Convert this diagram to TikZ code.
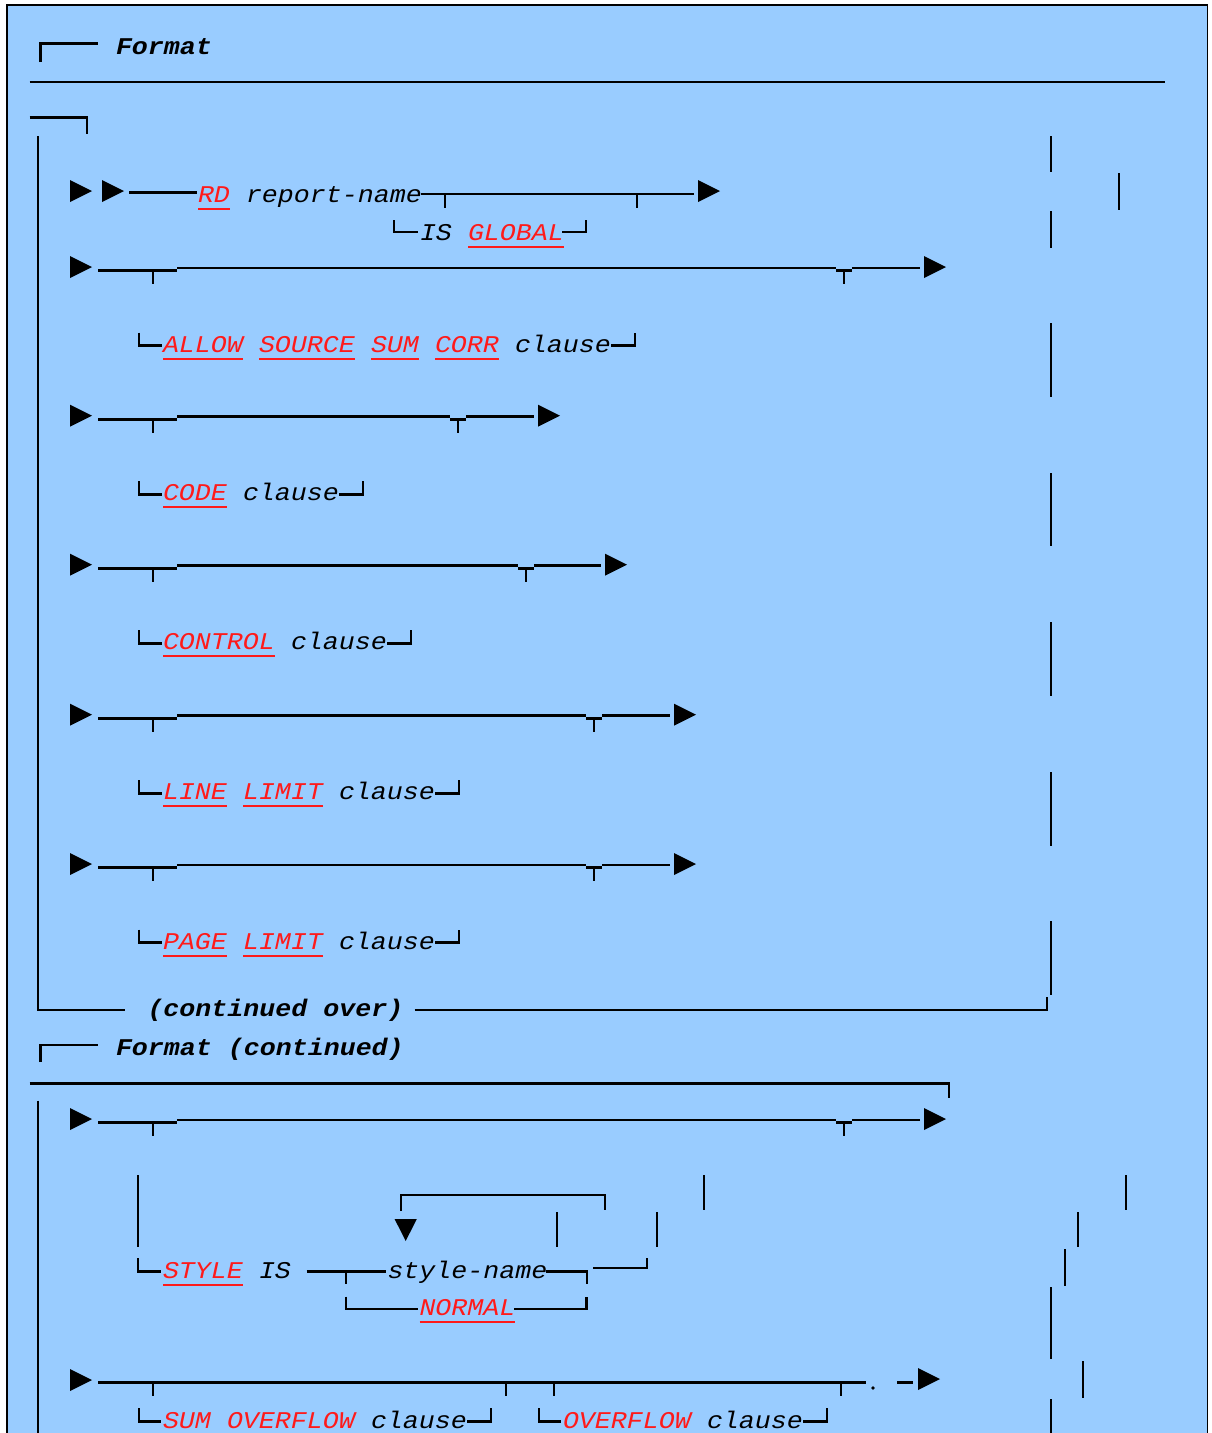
\documentclass[tikz,border=0pt]{standalone}
\usepackage{fontspec}
\newfontfamily\cmono[FakeStretch=1.11]{Liberation Mono}
\definecolor{bgblue}{HTML}{99CCFF}
\definecolor{kwred}{HTML}{FF1A1A}
\tikzset{
  txt/.style={anchor=base west, inner sep=0pt, outer sep=0pt, font=\cmono\itshape\fontsize{24}{28}\selectfont, text=black},
  kwd/.style={txt, text=kwred},
  ttl/.style={anchor=base west, inner sep=0pt, outer sep=0pt, font=\cmono\bfseries\itshape\fontsize{24}{28}\selectfont, text=black},
  ln/.style={line width=2.6pt, line join=miter},
  tk/.style={line width=2pt},
  ul/.style={draw=kwred, line width=2pt},
}
\newcommand\kw[4]{\node[kwd] (#1) at (#2,#3) {#4};\draw[ul] ([yshift=-6.5pt]#1.base west) -- ([yshift=-6.5pt]#1.base east);}
\newcommand\tx[4]{\node[txt] (#1) at (#2,#3) {#4};}
% optional row: #1 main line y, #2 second tee x, #3 arrow x
\newcommand\optrow[3]{%
  \fill (70,#1-12) -- (92,#1-1) -- (70,#1+10) -- cycle;
  \draw[ln] (98,#1+2.7) -- (177,#1+2.7);
  \draw[tk] (153,#1+2.7) -- (153,#1+16);
  \draw[ln] (177,#1) -- (#2-8,#1);
  \draw[ln] (#2-8,#1+2.7) -- (#2+8,#1+2.7);
  \draw[tk] (#2,#1+2.7) -- (#2,#1+16);
  \draw[ln] (#2+8,#1) -- (#3-4,#1);
  \fill (#3,#1-12) -- (#3+22,#1-1) -- (#3,#1+10) -- cycle;
}
% sub-row corners: #1 main y, #2 left corner x, #3 text end x, #4 right corner x
\newcommand\subbox[4]{%
  \draw[ln] (#2,#1+64.5) -- (#2,#1+77.5) -- (#2+23,#1+77.5);
  \draw[ln] (#3,#1+77.5) -- (#4,#1+77.5) -- (#4,#1+64.5);
}
\begin{document}
\begin{tikzpicture}[x=1pt,y=-1pt]
\useasboundingbox (0,0) rectangle (1211,1433);
\fill[white] (0,0) rectangle (1211,1433);
\draw[line width=1.5pt, fill=bgblue] (7,5) rectangle (1207.5,1460);

% ---------- header ----------
\draw[ln] (40.6,62) -- (40.6,43.5) -- (97.7,43.5);
\node[ttl] (fmt) at (116,54) {Format};
\draw[ln] (29.5,82) -- (1165,82);
\draw[ln] (29.5,117.5) -- (87,117.5) -- (87,134);
\draw[ln] (38,136) -- (38,1010) -- (125,1010);
\node[ttl] (cont) at (147.5,1016.7) {(continued over)};
\draw[ln] (414.6,1010) -- (1047,1010) -- (1047,997);

% right-side fragments
\foreach \a/\b in {136/172, 211/248, 323/397, 473/546, 622/696, 772/846, 921/995}
  \draw[ln] (1051,\a) -- (1051,\b);
\draw[ln] (1119,173) -- (1119,210);

% ---------- row 1 ----------
\fill (70,180) -- (92,191) -- (70,202) -- cycle;
\fill (102,180) -- (124,191) -- (102,202) -- cycle;
\draw[ln] (129,192.5) -- (197,192.5);
\kw{rd}{198}{202}{RD}
\tx{rname}{246}{202}{report-name}
\draw[ln] (421,194) -- (694,194);
\draw[tk] (445,194) -- (445,208);
\draw[tk] (637,194) -- (637,208);
\fill (698,180) -- (720,191) -- (698,202) -- cycle;
\draw[ln] (394,220) -- (394,232) -- (418,232);
\tx{is1}{420}{240}{IS}
\kw{glob}{468}{240}{GLOBAL}
\draw[ln] (562,232) -- (586,232) -- (586,220);

% ---------- row 2 ----------
\optrow{268}{844}{924}
\subbox{268}{139}{611}{635}
\kw{allow}{163}{352}{ALLOW}
\kw{source}{259}{352}{SOURCE}
\kw{sum}{371}{352}{SUM}
\kw{corr}{435}{352}{CORR}
\tx{cl2}{515}{352}{clause}

% ---------- row 3 ----------
\optrow{416.7}{458}{538}
\subbox{416.7}{139}{339}{363}
\kw{code}{163}{500.7}{CODE}
\tx{cl3}{243}{500.7}{clause}

% ---------- row 4 ----------
\optrow{565.7}{526}{605}
\subbox{565.7}{139}{387}{411}
\kw{control}{163}{649.7}{CONTROL}
\tx{cl4}{291}{649.7}{clause}

% ---------- row 5 ----------
\optrow{715.7}{594}{674}
\subbox{715.7}{139}{435}{459}
\kw{line}{163}{799.7}{LINE}
\kw{limit5}{243}{799.7}{LIMIT}
\tx{cl5}{339}{799.7}{clause}

% ---------- row 6 ----------
\optrow{865}{594}{674}
\subbox{865}{139}{435}{459}
\kw{page}{163}{949}{PAGE}
\kw{limit6}{243}{949}{LIMIT}
\tx{cl6}{339}{949}{clause}

% ---------- continued header ----------
\draw[ln] (40.6,1062) -- (40.6,1045) -- (97.7,1045);
\node[ttl] (fmtc) at (116,1055) {Format (continued)};
\draw[ln] (29.5,1083.3) -- (949,1083.3) -- (949,1098);
\draw[ln] (38,1100.7) -- (38,1460);

% ---------- row 7 ----------
\optrow{1120}{844}{924}
\draw[ln] (138,1175) -- (138,1247);
\draw[ln] (138,1258) -- (138,1271.7) -- (161,1271.7);
\kw{style}{163}{1278}{STYLE}
\tx{is7}{259}{1278}{IS}
\draw[ln] (306.5,1271.7) -- (386,1271.7);
\draw[tk] (346,1271.7) -- (346,1284);
\tx{sname}{387.5}{1278}{style-name}
\draw[ln] (546,1271.7) -- (588,1271.7);
\draw[tk] (586.5,1271.7) -- (586.5,1284);
\draw[ln] (593,1268) -- (647,1268) -- (647,1258);
% repeat loop
\draw[ln] (401,1211) -- (401,1195) -- (605,1195) -- (605,1210);
\fill (394.6,1219) -- (416.8,1219) -- (405.7,1241) -- cycle;
\draw[ln] (557,1212) -- (557,1247);
\draw[ln] (657,1212) -- (657,1247);
\draw[ln] (704,1175) -- (704,1210);
% NORMAL
\draw[ln] (346,1296.5) -- (346,1309) -- (417.6,1309);
\kw{normal}{419.5}{1315}{NORMAL}
\draw[ln] (514,1309) -- (586.5,1309) -- (586.5,1296.5);
% right fragments
\draw[ln] (1126,1175) -- (1126,1210);
\draw[ln] (1078,1212) -- (1078,1247);
\draw[ln] (1065,1249) -- (1065,1286);
\draw[ln] (1051,1287) -- (1051,1359);
\draw[ln] (1083,1361) -- (1083,1398);
\draw[ln] (1051,1399) -- (1051,1460);

% ---------- row 8 ----------
\fill (70,1369) -- (92,1380) -- (70,1391) -- cycle;
\draw[ln] (98,1382.7) -- (866,1382.7);
\foreach \t in {153, 505.7, 553.6, 841}
  \draw[tk] (\t,1382.7) -- (\t,1396);
\fill (873,1388) circle (1.8);
\draw[ln] (897,1382.7) -- (913,1382.7);
\fill (918,1368) -- (940,1379) -- (918,1390) -- cycle;
\draw[ln] (139,1408.3) -- (139,1421.7) -- (161,1421.7);
\kw{sum8}{163}{1428}{SUM}
\kw{ovf8}{227}{1428}{OVERFLOW}
\tx{cl8a}{371}{1428}{clause}
\draw[ln] (467,1421.7) -- (491,1421.7) -- (491,1408.3);
\draw[ln] (539,1408.3) -- (539,1421.7) -- (561,1421.7);
\kw{ovf8b}{563}{1428}{OVERFLOW}
\tx{cl8b}{707}{1428}{clause}
\draw[ln] (803,1421.7) -- (827,1421.7) -- (827,1408.3);
\end{tikzpicture}
\end{document}
